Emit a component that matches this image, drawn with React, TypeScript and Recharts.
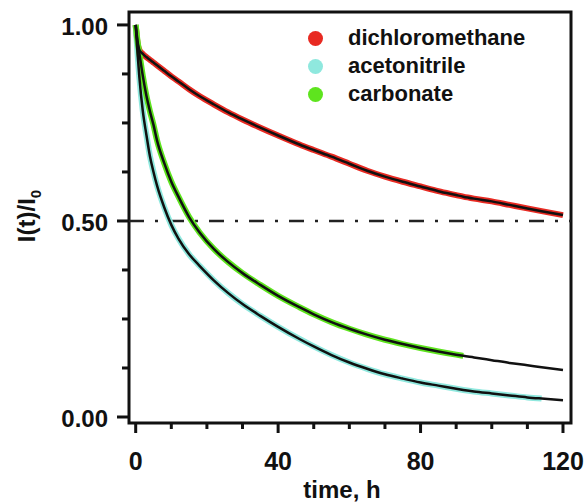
import React from 'react';
import {
  ComposedChart,
  Line,
  XAxis,
  YAxis,
  ReferenceLine,
  ReferenceArea,
} from 'recharts';

// time, h
const times = [
  0, 0.5, 1, 2, 3, 4, 5, 6, 8, 10, 12, 15, 18, 22, 26, 30, 35, 40, 46, 50, 55,
  60, 65, 70, 75, 80, 85, 90, 92, 95, 100, 105, 110, 114, 120,
];

// I(t)/I0
const dcmValues = [
  1.0, 0.955, 0.937, 0.926, 0.918, 0.911, 0.904, 0.897, 0.883, 0.869, 0.856, 0.836,
  0.818, 0.797, 0.777, 0.759, 0.738, 0.718, 0.695, 0.681, 0.664, 0.646, 0.628, 0.613,
  0.6, 0.588, 0.576, 0.566, 0.562, 0.557, 0.55, 0.541, 0.532, 0.525, 0.515,
];
const acnValues = [
  1.0, 0.93, 0.87, 0.78, 0.72, 0.665, 0.625, 0.59, 0.535, 0.49, 0.455, 0.415, 0.385,
  0.348, 0.316, 0.288, 0.258, 0.23, 0.199, 0.18, 0.158, 0.139, 0.123, 0.109, 0.098,
  0.088, 0.08, 0.072, 0.069, 0.065, 0.06, 0.055, 0.05, 0.047, 0.043,
];
const carbValues = [
  1.0, 0.96, 0.93, 0.87, 0.82, 0.78, 0.745, 0.705, 0.648, 0.6, 0.562, 0.51, 0.47,
  0.428, 0.395, 0.367, 0.337, 0.309, 0.28, 0.262, 0.242, 0.225, 0.21, 0.197, 0.186,
  0.176, 0.167, 0.159, 0.156, 0.152, 0.145, 0.138, 0.132, 0.127, 0.12,
];

// measured points stop earlier than the fits
const acnDataEnd = 114;
const carbDataEnd = 92;

const seriesNames = ['dichloromethane', 'acetonitrile', 'carbonate'];
const seriesColors = ['#e82a22', '#8fe8de', '#5ee41e'];

const xTicks = [0, 10, 20, 30, 40, 50, 60, 70, 80, 90, 100, 110, 120];
const xLabels = [0, 40, 80, 120];
const yTicks = [0, 0.125, 0.25, 0.375, 0.5, 0.625, 0.75, 0.875, 1];
const yLabels = [0, 0.5, 1];

const font = '"Liberation Sans", Arial, sans-serif';
const ink = '#111';

const rows = times.map((t, i) => ({
  t,
  dcm: dcmValues[i],
  acn: t <= acnDataEnd ? acnValues[i] : null,
  carb: t <= carbDataEnd ? carbValues[i] : null,
  dcmFit: dcmValues[i],
  acnFit: acnValues[i],
  carbFit: carbValues[i],
}));

function XTick(props: any) {
  const { x, y, payload } = props;
  const major = xLabels.includes(payload.value);
  return (
    <g>
      <line x1={x} x2={x} y1={y} y2={y + (major ? 10 : 6)} stroke={ink} strokeWidth={3} />
      {major && (
        <text x={x} y={y + 47} textAnchor="middle" fontFamily={font} fontWeight="bold" fontSize={25} fill={ink}>
          {payload.value}
        </text>
      )}
    </g>
  );
}

function YTick(props: any) {
  const { x, y, payload } = props;
  const major = yLabels.includes(payload.value);
  return (
    <g>
      <line x1={x - (major ? 12 : 7)} x2={x} y1={y} y2={y} stroke={ink} strokeWidth={3} />
      {major && (
        <text x={x - 21} y={y + 10} textAnchor="end" fontFamily={font} fontWeight="bold" fontSize={24} fill={ink}>
          {payload.value.toFixed(2)}
        </text>
      )}
    </g>
  );
}

function LegendBox() {
  return (
    <div
      style={{
        position: 'absolute',
        left: 308,
        top: 24,
        fontFamily: font,
        fontWeight: 'bold',
        fontSize: 22,
        color: ink,
        pointerEvents: 'none',
      }}
    >
      {seriesNames.map((name, i) => (
        <div key={name} style={{ display: 'flex', alignItems: 'center', height: 28 }}>
          <div
            style={{
              width: 15,
              height: 15,
              borderRadius: '50%',
              background: seriesColors[i],
              marginRight: 25,
            }}
          />
          <span>{name}</span>
        </div>
      ))}
    </div>
  );
}

export default function App() {
  return (
    <div style={{ position: 'absolute', left: 0, top: 0, width: 588, height: 504, background: '#fff' }}>
      <ComposedChart
        width={588}
        height={504}
        data={rows}
        margin={{ top: 12, right: 17, bottom: 41, left: 69 }}
      >
        <XAxis
          dataKey="t"
          type="number"
          domain={[-1.88, 122.25]}
          allowDataOverflow
          ticks={xTicks}
          interval={0}
          tick={<XTick />}
          tickLine={false}
          tickSize={0}
          tickMargin={0}
          axisLine={false}
          height={40}
        />
        <YAxis
          type="number"
          domain={[-0.0153, 1.033]}
          allowDataOverflow
          ticks={yTicks}
          interval={0}
          tick={<YTick />}
          tickLine={false}
          tickSize={0}
          tickMargin={0}
          axisLine={false}
          width={60}
        />
        <ReferenceLine
          y={0.5}
          stroke="#222"
          strokeWidth={2.5}
          strokeDasharray="15 11 3 11"
        />
        <Line dataKey="dcm" stroke={seriesColors[0]} strokeWidth={6} dot={false} type="monotone" isAnimationActive={false} />
        <Line dataKey="acn" stroke={seriesColors[1]} strokeWidth={6} dot={false} type="monotone" isAnimationActive={false} />
        <Line dataKey="carb" stroke={seriesColors[2]} strokeWidth={6} dot={false} type="monotone" isAnimationActive={false} />
        <Line dataKey="dcmFit" stroke={ink} strokeWidth={2.5} dot={false} type="monotone" isAnimationActive={false} />
        <Line dataKey="acnFit" stroke={ink} strokeWidth={2.5} dot={false} type="monotone" isAnimationActive={false} />
        <Line dataKey="carbFit" stroke={ink} strokeWidth={2.5} dot={false} type="monotone" isAnimationActive={false} />
        <ReferenceArea
          x1={-1.88}
          x2={122.25}
          y1={-0.0153}
          y2={1.033}
          fill="none"
          stroke={ink}
          strokeWidth={3}
          ifOverflow="visible"
        />
      </ComposedChart>
      <LegendBox />
      <svg
        width={588}
        height={504}
        style={{ position: 'absolute', left: 0, top: 0, pointerEvents: 'none' }}
      >
        <text x={342} y={498} textAnchor="middle" fontFamily={font} fontWeight="bold" fontSize={24} fill={ink}>
          time, h
        </text>
        <text
          transform="translate(35,216) rotate(-90)"
          textAnchor="middle"
          fontFamily={font}
          fontWeight="bold"
          fontSize={24}
          fill={ink}
        >
          I(t)/I
          <tspan fontSize={15} dy={6}>0</tspan>
        </text>
      </svg>
    </div>
  );
}
